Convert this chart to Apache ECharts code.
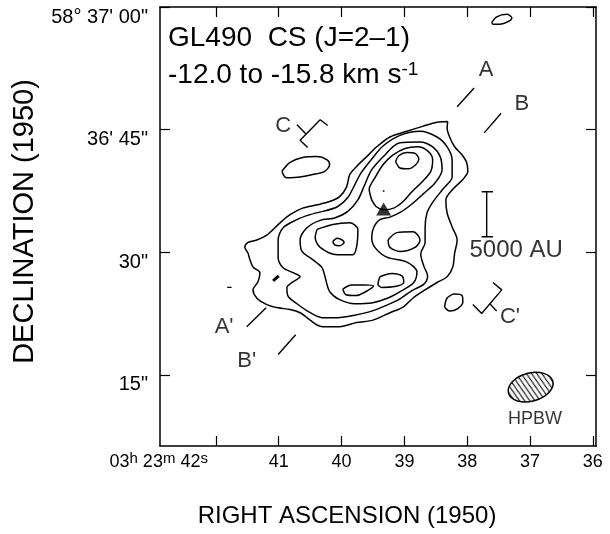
<!DOCTYPE html>
<html>
<head>
<meta charset="utf-8">
<title>GL490 CS (J=2-1)</title>
<script src="https://cdn.jsdelivr.net/npm/echarts@6/dist/echarts.min.js"></script>
<style>
  html, body { margin: 0; padding: 0; background: #fff; }
  #chart { width: 610px; height: 534px; }
</style>
</head>
<body>
<div id="chart"></div>
<script>
// x = RA seconds past 03h 23m, y = Dec arcsec past 58° 36'
const raTicks = [36, 37, 38, 39, 40, 41, 42];
const raPlainLabels = [36, 37, 38, 39, 40, 41];
const raFirstLabel = [42];
const decTicks = [15, 30, 45, 60];
const decTickLabels = { 15: '15"', 30: '30"', 45: '36\' 45"', 60: '58° 37\' 00"' };

// contours, [ra, dec]
const level1 = [[38.31,46.0],[38.32,45.2],[38.28,44.1],[38.20,42.9],[38.08,41.9],[38.01,41.0],[37.99,39.9],[38.07,38.9],[38.23,37.7],[38.34,36.4],[38.32,34.8],[38.24,33.1],[38.16,31.5],[38.20,29.9],[38.23,28.2],[38.32,27.0],[38.48,26.3],[38.71,25.2],[38.86,24.4],[39.02,23.3],[39.23,22.6],[39.50,21.7],[39.76,21.4],[40.03,20.9],[40.30,20.9],[40.39,21.1],[40.50,21.7],[40.66,22.6],[40.82,23.0],[41.01,23.2],[41.19,23.6],[41.35,24.4],[41.41,25.4],[41.33,26.4],[41.30,27.5],[41.41,28.2],[41.46,29.1],[41.49,29.9],[41.54,30.6],[41.49,31.2],[41.35,31.5],[41.19,32.1],[40.98,33.6],[40.82,34.6],[40.62,35.4],[40.39,35.8],[40.19,36.2],[40.03,36.8],[39.92,38.0],[39.87,39.5],[39.76,40.5],[39.60,41.7],[39.44,42.9],[39.23,44.1],[38.96,44.8],[38.71,45.4],[38.48,45.9],[38.31,46.0]];
const level2 = [[40.30,35.0],[40.06,35.6],[39.90,36.7],[39.80,38.1],[39.69,39.7],[39.53,41.3],[39.34,43.0],[39.07,44.3],[38.75,44.8],[38.48,44.1],[38.32,42.9],[38.24,41.3],[38.24,39.2],[38.39,37.7],[38.55,36.1],[38.64,34.8],[38.67,33.0],[38.67,31.2],[38.74,29.8],[38.69,28.3],[38.63,27.1],[38.69,26.1],[38.88,25.3],[39.07,24.3],[39.26,23.6],[39.52,22.8],[39.79,22.3],[40.06,22.0],[40.31,22.0],[40.52,22.7],[40.71,23.7],[40.85,24.6],[40.87,25.7],[40.77,26.4],[40.66,27.0],[40.77,27.5],[40.93,28.1],[41.01,29.4],[41.01,31.5],[40.93,33.0],[40.71,34.0],[40.50,34.6],[40.30,35.0]];
const level3 = [[39.31,41.9],[39.07,43.4],[38.75,43.5],[38.55,42.9],[38.43,41.7],[38.40,40.1],[38.51,38.5],[38.69,37.2],[38.88,35.9],[39.04,35.0],[39.23,34.3],[39.39,34.0],[39.49,33.0],[39.52,31.8],[39.47,30.6],[39.28,29.4],[38.96,28.8],[38.80,27.6],[38.85,26.3],[39.04,25.3],[39.26,24.4],[39.52,23.8],[39.79,23.7],[40.03,24.2],[40.19,25.2],[40.25,26.6],[40.31,28.1],[40.46,29.1],[40.63,30.1],[40.66,31.5],[40.55,33.0],[40.34,33.9],[40.11,34.2],[39.90,35.0],[39.74,36.4],[39.64,38.1],[39.52,40.1],[39.31,41.9]];
const level3East = [[39.26,31.5],[39.12,32.4],[38.86,32.5],[38.75,31.5],[38.83,30.6],[39.07,30.1],[39.23,30.6],[39.26,31.5]];
const level4North = [[39.52,36.4],[39.56,37.7],[39.47,39.1],[39.34,40.7],[39.18,41.9],[38.99,42.7],[38.79,42.9],[38.63,42.4],[38.55,41.3],[38.58,39.9],[38.72,38.6],[38.88,37.4],[39.02,36.2],[39.17,35.4],[39.33,35.2],[39.45,35.6],[39.52,36.4]];
const level4West = [[40.39,32.8],[40.14,33.4],[39.87,33.6],[39.74,32.8],[39.76,30.7],[39.82,29.7],[40.07,29.7],[40.34,30.6],[40.42,31.8],[40.39,32.8]];
const level4SouthE = [[39.39,27.0],[39.20,27.4],[39.04,27.1],[39.01,26.3],[39.15,25.8],[39.36,25.7],[39.42,26.1],[39.39,27.0]];
const level4SouthW = [[39.98,25.5],[39.84,26.0],[39.63,26.0],[39.49,25.9],[39.61,25.2],[39.77,24.7],[39.93,24.8],[39.98,25.5]];
const level5North = [[39.14,41.1],[39.09,41.8],[38.96,42.2],[38.83,42.1],[38.77,41.4],[38.82,40.7],[38.94,40.2],[39.07,40.3],[39.14,41.1]];
const level5West = [[40.14,31.3],[40.07,31.7],[39.99,31.5],[39.96,31.2],[40.03,30.8],[40.11,30.9],[40.14,31.3]];
const blobWest = [[40.95,39.9],[40.82,41.0],[40.62,41.6],[40.39,41.7],[40.23,41.3],[40.19,40.7],[40.27,39.9],[40.46,39.5],[40.66,39.2],[40.82,39.1],[40.90,39.2],[40.95,39.9]];
const blobNorth = [[37.61,58.1],[37.53,58.8],[37.37,59.1],[37.29,58.7],[37.35,58.2],[37.48,57.9],[37.59,57.9],[37.61,58.1]];
const blobEast = [[38.36,23.3],[38.32,24.4],[38.20,24.9],[38.08,24.7],[38.07,23.9],[38.15,23.1],[38.28,22.8],[38.36,23.3]];
const speckA = [[41.09,26.5],[41.00,27.1]];
const speckB = [[41.82,25.7],[41.75,25.7]];

// source position and peak dot
const peakStar = [39.33, 35.3];
const peakDot = [39.33, 37.5];

// cut markers
const cutA = [[38.16,47.8],[37.89,50.1]];
const cutB = [[37.73,44.6],[37.46,47.0]];
const cutA2 = [[41.51,20.9],[41.20,23.2]];
const cutB2 = [[41.01,17.5],[40.73,19.9]];
const cutC = [[40.22,45.5],[40.34,46.2],[40.66,43.7],[40.54,42.8]];
const cutCTick = [[40.71,45.6],[40.57,44.5]];
const cutC2 = [[37.59,26.3],[37.45,25.4],[37.77,22.5],[37.91,23.6]];
const cutC2Tick = [[37.64,23.7],[37.53,22.8]];
const markNames = ['A', 'B', 'C', "A'", "B'", "C'"];
const markRA = [37.70, 37.13, 40.93, 41.87, 41.51, 37.32];
const markDec = [52.3, 48.1, 45.4, 20.9, 16.7, 22.1];

// 5000 AU scale bar
const scaleBar = [[37.69,37.4],[37.69,31.9]];
const scaleTop = [[37.77,37.4],[37.59,37.4]];
const scaleBottom = [[37.77,31.9],[37.59,31.9]];
const scaleLabel = [37.22, 30.2];

// beam: ra, dec, major (s), minor ("), angle (deg)
const beam = [36.99, 13.5, 0.73, 3.43, 15];
const beamLabel = [36.92, 9.55];

const font = 'Liberation Sans, Arial, Helvetica, sans-serif';

function hatch() {
  const c = document.createElement('canvas');
  c.width = 6; c.height = 6;
  const g = c.getContext('2d');
  g.fillStyle = '#fff';
  g.fillRect(0, 0, 6, 6);
  g.strokeStyle = '#000';
  g.lineWidth = 1.1;
  g.beginPath();
  g.moveTo(-1, -1); g.lineTo(7, 7);
  g.moveTo(-1, 5); g.lineTo(1, 7);
  g.moveTo(5, -1); g.lineTo(7, 1);
  g.stroke();
  return c;
}

function path(data, width, smooth) {
  return {
    type: 'line', data: data, symbol: 'none', smooth: smooth || false,
    lineStyle: { color: '#000', width: width },
    silent: true, animation: false
  };
}

function textPoints(names, xs, ys, size) {
  return {
    type: 'scatter', symbolSize: 1, itemStyle: { color: 'rgba(0,0,0,0)' },
    data: names.map((n, i) => ({ name: n, value: [xs[i], ys[i]] })),
    label: { show: true, position: 'inside', formatter: '{b}', fontSize: size, color: '#000', fontFamily: font },
    silent: true, animation: false
  };
}

const chart = echarts.init(document.getElementById('chart'));
const axisLine = { show: true, onZero: false, lineStyle: { color: '#000', width: 1.5 } };
const tickStyle = { color: '#000', width: 1.2 };
const raMin = 35.95, raMax = 42.89;

const option = {
  backgroundColor: '#fff',
  textStyle: { fontFamily: font },
  animation: false,
  title: [
    { text: 'GL490  CS (J=2–1)', left: 168, top: 23, padding: 0,
      textStyle: { fontSize: 28, fontWeight: 'normal', color: '#000', fontFamily: font, lineHeight: 30 } },
    { text: '-12.0 to -15.8 km s{sup|-1}', left: 168, top: 60, padding: 0,
      textStyle: { fontSize: 28, fontWeight: 'normal', color: '#000', fontFamily: font, lineHeight: 30,
        rich: { sup: { fontSize: 19, lineHeight: 18, verticalAlign: 'top', color: '#000', fontFamily: font } } } }
  ],
  grid: { left: 160, top: 7, right: 14, bottom: 88, outerBoundsMode: 'none' },
  xAxis: [
    {
      type: 'value', position: 'bottom', min: raMin, max: raMax, inverse: true,
      axisLine: axisLine,
      axisTick: { show: true, inside: true, length: 10, customValues: raTicks, lineStyle: tickStyle },
      axisLabel: {
        customValues: raPlainLabels, margin: 5, color: '#000', fontSize: 18, lineHeight: 22, fontFamily: font,
        showMinLabel: true, showMaxLabel: true
      },
      splitLine: { show: false },
      name: 'RIGHT ASCENSION (1950)', nameLocation: 'middle', nameGap: 58, nameMoveOverlap: false,
      nameTextStyle: { fontSize: 24, color: '#000', fontFamily: font, padding: [0, 62, 0, 0] }
    },
    {
      type: 'value', position: 'top', min: raMin, max: raMax, inverse: true,
      axisLine: axisLine,
      axisTick: { show: true, inside: true, length: 10, customValues: raTicks, lineStyle: tickStyle },
      axisLabel: { show: false }, splitLine: { show: false }
    },
    {
      // first RA label, right-aligned to its tick like the original
      type: 'value', position: 'bottom', min: raMin, max: raMax, inverse: true,
      axisLine: { show: false }, axisTick: { show: false }, splitLine: { show: false },
      axisLabel: {
        customValues: raFirstLabel, margin: 5, align: 'right', padding: [0, 8, 0, 0],
        color: '#000', fontSize: 18, lineHeight: 22, fontFamily: font,
        showMinLabel: true, showMaxLabel: true,
        formatter: () => '{n|03}{s|h} {n|23}{s|m} {n|42}{s|s}',
        rich: {
          n: { fontSize: 18, lineHeight: 22, color: '#000', fontFamily: font },
          s: { fontSize: 15, lineHeight: 12, verticalAlign: 'top', color: '#000', fontFamily: font }
        }
      }
    }
  ],
  yAxis: [
    {
      type: 'value', position: 'left', min: 6.3, max: 60,
      axisLine: axisLine,
      axisTick: { show: true, inside: true, length: 10, customValues: decTicks, lineStyle: tickStyle },
      axisLabel: {
        customValues: decTicks, margin: 12, color: '#000', fontSize: 20, fontFamily: font,
        showMinLabel: true, showMaxLabel: true,
        verticalAlign: 'top', formatter: v => decTickLabels[v]
      },
      splitLine: { show: false },
      name: 'DECLINATION (1950)', nameLocation: 'middle', nameGap: 121, nameRotate: 90, nameMoveOverlap: false,
      nameTextStyle: { fontSize: 29, color: '#000', fontFamily: font, padding: [0, 0, 0, 10] }
    },
    {
      type: 'value', position: 'right', min: 6.3, max: 60,
      axisLine: axisLine,
      axisTick: { show: true, inside: true, length: 10, customValues: decTicks, lineStyle: tickStyle },
      axisLabel: { show: false }, splitLine: { show: false }
    }
  ],
  series: [
    path(level1, 1.5, 0.3),
    path(level2, 1.5, 0.3),
    path(level3, 1.5, 0.3),
    path(level3East, 1.5, 0.3),
    path(level4North, 1.5, 0.3),
    path(level4West, 1.5, 0.3),
    path(level4SouthE, 1.5, 0.3),
    path(level4SouthW, 1.5, 0.3),
    path(level5North, 1.5, 0.3),
    path(level5West, 1.5, 0.3),
    path(blobWest, 1.5, 0.3),
    path(blobNorth, 1.5, 0.3),
    path(blobEast, 1.5, 0.3),
    path(speckA, 3),
    path(speckB, 1.2),
    path(cutA, 1.4), path(cutB, 1.4), path(cutA2, 1.4), path(cutB2, 1.4),
    path(cutC, 1.4), path(cutCTick, 1.4), path(cutC2, 1.4), path(cutC2Tick, 1.4),
    path(scaleBar, 1.4), path(scaleTop, 1.4), path(scaleBottom, 1.4),
    {
      type: 'scatter', data: [peakStar], symbol: 'triangle', symbolSize: [15, 13],
      itemStyle: { color: '#000' }, silent: true, animation: false
    },
    {
      type: 'scatter', data: [peakDot], symbolSize: 2,
      itemStyle: { color: '#000' }, silent: true, animation: false
    },
    {
      type: 'custom', data: [beam], encode: { x: 0, y: 1 }, silent: true, animation: false,
      renderItem: (params, api) => {
        const c = api.coord([api.value(0), api.value(1)]);
        const w = Math.abs(api.size([api.value(2), 0])[0]);
        const h = Math.abs(api.size([0, api.value(3)])[1]);
        return {
          type: 'ellipse', x: c[0], y: c[1], rotation: api.value(4) * Math.PI / 180,
          shape: { cx: 0, cy: 0, rx: w / 2, ry: h / 2 },
          style: { fill: { image: hatch(), repeat: 'repeat', rotation: 0.44 }, stroke: '#000', lineWidth: 1.5 }
        };
      }
    },
    textPoints(markNames, markRA, markDec, 22),
    textPoints(['5000 AU'], [scaleLabel[0]], [scaleLabel[1]], 24),
    textPoints(['HPBW'], [beamLabel[0]], [beamLabel[1]], 18)
  ]
};

chart.setOption(option);
</script>
</body>
</html>
